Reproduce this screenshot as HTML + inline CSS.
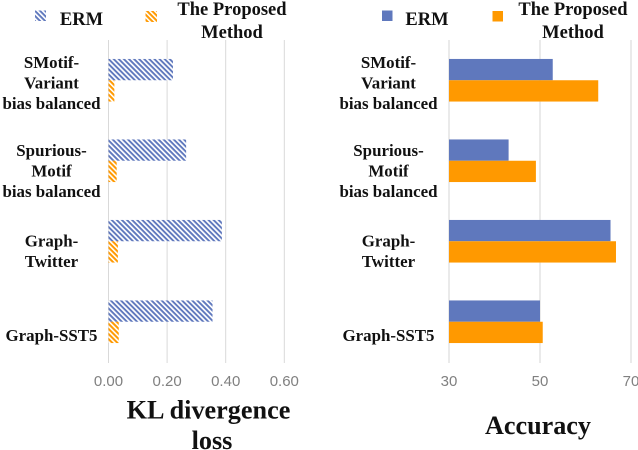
<!DOCTYPE html>
<html lang="en">
<head>
<meta charset="utf-8">
<title>KL divergence loss and accuracy by dataset</title>
<style>
html,body{margin:0;padding:0;background:#fff;}
svg{display:block;filter:blur(0.3px);}
.bold{font-family:"Liberation Serif",serif;font-weight:bold;fill:#111;}
.cat{font-size:16.9px;text-anchor:middle;}
.leg{font-size:18.5px;text-anchor:middle;}
.title{font-size:26.2px;text-anchor:middle;}
.tick{font-family:"Liberation Sans",sans-serif;font-size:15px;fill:#808080;text-anchor:middle;}
</style>
</head>
<body>
<svg id="chart" xmlns="http://www.w3.org/2000/svg" width="638" height="450" viewBox="0 0 638 450">
<defs>
<pattern id="hatch-blue" patternUnits="userSpaceOnUse" width="3.6" height="3.6" patternTransform="rotate(45)">
<rect width="3.6" height="3.6" fill="#fff"/><rect width="3.6" height="1.9" fill="#5f78bd"/>
</pattern>
<pattern id="hatch-orange" patternUnits="userSpaceOnUse" width="3.6" height="3.6" patternTransform="rotate(45)">
<rect width="3.6" height="3.6" fill="#fff"/><rect width="3.6" height="2" fill="#ff9900"/>
</pattern>
</defs>
<rect x="35" y="10.5" width="11" height="10.5" fill="url(#hatch-blue)"/>
<text class="bold leg" x="81.5" y="25">ERM</text>
<rect x="145.5" y="11" width="11.5" height="11" fill="url(#hatch-orange)"/>
<text class="bold leg" x="232" y="15">The Proposed</text>
<text class="bold leg" x="232" y="38">Method</text>
<rect x="382" y="10.5" width="10.5" height="10.5" fill="#5f78bd"/>
<text class="bold leg" x="427" y="25">ERM</text>
<rect x="492.5" y="11" width="10.5" height="10.5" fill="#ff9900"/>
<text class="bold leg" x="573" y="15">The Proposed</text>
<text class="bold leg" x="573" y="38">Method</text>
<text class="bold title" x="208.5" y="418.5">KL divergence</text>
<text class="bold title" x="212" y="449">loss</text>
<text class="bold title" x="538" y="434" textLength="106" lengthAdjust="spacingAndGlyphs">Accuracy</text>
<g id="left-plot"></g>
<g id="right-plot"></g>
</svg>
<script>
const categoryLines = [
  ["SMotif-", "Variant", "bias balanced"],
  ["Spurious-", "Motif", "bias balanced"],
  ["Graph-", "Twitter"],
  ["Graph-SST5"]
];
const klErm = [0.22, 0.265, 0.387, 0.355];
const klProposed = [0.02, 0.028, 0.032, 0.035];
const accErm = [52.8, 43.1, 65.5, 50];
const accProposed = [62.8, 49.1, 66.7, 50.6];
const klTicks = [0, 0.2, 0.4, 0.6];
const klTickLabels = ["0.00", "0.20", "0.40", "0.60"];
const accTicks = [30, 50, 70];
const accTickLabels = ["30", "50", "70"];

const NS = "http://www.w3.org/2000/svg";
const plotTop = 40, plotBottom = 362, barHeight = 21.3;
const bandHeight = (plotBottom - plotTop) / categoryLines.length;
const lineGap = 20.7;

function bandCenter(i) {
  return plotTop + bandHeight * (i + 0.5);
}
function scaleKl(v) {
  return 108.5 + (v - 0) * (284.3 - 108.5) / 0.6;
}
function scaleAcc(v) {
  return 449 + (v - 30) * (631 - 449) / 40;
}
function labelOffset(i) {
  if (i === 0) return -12.5;
  if (i === 1) return -5;
  if (i === 2) return 5;
  return 19;
}
function make(parent, tag, attrs, text) {
  const el = document.createElementNS(NS, tag);
  for (const k in attrs) el.setAttribute(k, attrs[k]);
  if (text !== undefined) el.textContent = text;
  parent.appendChild(el);
  return el;
}
function drawPlot(cfg) {
  const g = document.getElementById(cfg.id);
  cfg.ticks.forEach(function (t, i) {
    const x = cfg.scale(t);
    const line = make(g, "line", {x1: x, x2: x, y1: plotTop, y2: plotBottom + 1, stroke: cfg.grid, "stroke-width": cfg.gridWidth});
    
    
    const label = make(g, "text", {x: x, y: 386, class: "tick"}, cfg.tickLabels[i]);
    
    
  });
  categoryLines.forEach(function (lines, i) {
    const c = bandCenter(i);
    const x0 = cfg.scale(cfg.ticks[0]);
    const a = make(g, "rect", {x: x0, y: c - barHeight, width: cfg.scale(cfg.first[i]) - x0, height: barHeight, fill: cfg.firstFill});
    
    
    const b = make(g, "rect", {x: x0, y: c, width: cfg.scale(cfg.second[i]) - x0, height: barHeight, fill: cfg.secondFill});
    
    
    const offset = labelOffset(i);
    lines.forEach(function (txt, j) {
      const label = make(g, "text", {x: cfg.labelX, y: c + offset + j * lineGap, class: "bold cat"}, txt);
      
      
    });
  });
}
drawPlot({id: "left-plot", scale: scaleKl, ticks: klTicks, tickLabels: klTickLabels, first: klErm, second: klProposed,
  firstFill: "url(#hatch-blue)", secondFill: "url(#hatch-orange)", grid: "#d9d9d9", gridWidth: 1, labelX: 51.5});
drawPlot({id: "right-plot", scale: scaleAcc, ticks: accTicks, tickLabels: accTickLabels, first: accErm, second: accProposed,
  firstFill: "#5f78bd", secondFill: "#ff9900", grid: "#e4e4e4", gridWidth: 1.5, labelX: 388.5});
</script>
</body>
</html>
